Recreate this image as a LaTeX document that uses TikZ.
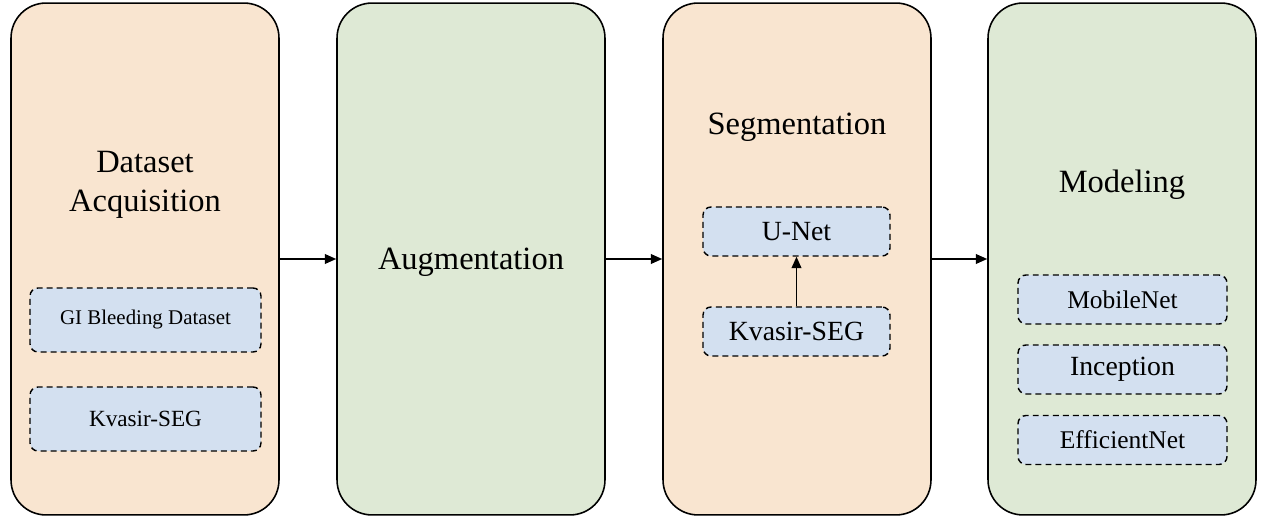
\documentclass[tikz,border=0pt]{standalone}
\usepackage{fontspec}
\setmainfont{Liberation Serif}
\usetikzlibrary{arrows.meta}
\definecolor{peach}{RGB}{249,229,208}
\definecolor{sage}{RGB}{222,233,213}
\definecolor{paleblue}{RGB}{211,224,240}
\tikzset{
  stage/.style={draw=black, line width=0.9pt, rounded corners=0.7cm, minimum width=5.36cm, minimum height=10.24cm, inner sep=0pt},
  title/.style={font=\fontsize{18.5}{22.2}\selectfont, align=center, inner sep=0pt},
  item/.style={draw=black, line width=0.8pt, dash pattern=on 3.4pt off 2.3pt, rounded corners=0.16cm, fill=paleblue, inner sep=0pt},
  flow/.style={line width=1pt, -{Triangle[length=6.5pt,width=5.5pt]}}
}
\begin{document}
\begin{tikzpicture}[x=0.02cm, y=-0.02cm]
\useasboundingbox (0,0) rectangle (1264,516);
% stages
\node[stage, fill=peach] (s1) at (145,259) {};
\node[stage, fill=sage]  (s2) at (471,259) {};
\node[stage, fill=peach] (s3) at (797,259) {};
\node[stage, fill=sage]  (s4) at (1122,259) {};
% titles
\node[title] (t1) at (145,185) {Dataset\\Acquisition};
\node[title] (t2) at (471,262) {Augmentation};
\node[title] (t3) at (797,127) {Segmentation};
\node[title] (t4) at (1122,185) {Modeling};
% items stage 1
\node[item, minimum width=4.62cm, minimum height=1.28cm, font=\fontsize{11.9}{14}\selectfont] (gi) at (145.5,320) {GI Bleeding Dataset};
\node[item, minimum width=4.62cm, minimum height=1.28cm, font=\fontsize{13.2}{15}\selectfont] (kv1) at (145.5,419) {Kvasir-SEG};
% items stage 3
\node[item, minimum width=3.74cm, minimum height=0.98cm, font=\fontsize{15.8}{18}\selectfont] (un) at (796.5,231.5) {U-Net};
\node[item, minimum width=3.74cm, minimum height=0.98cm, font=\fontsize{15.8}{18}\selectfont] (kv3) at (796.5,331.5) {Kvasir-SEG};
% items stage 4
\node[item, minimum width=4.18cm, minimum height=0.98cm, font=\fontsize{14.5}{17}\selectfont] (mb) at (1122.5,299.5) {MobileNet};
\node[item, minimum width=4.18cm, minimum height=0.98cm, font=\fontsize{15.8}{18}\selectfont] (inc) at (1122.5,369.5) {Inception};
\node[item, minimum width=4.18cm, minimum height=0.98cm, font=\fontsize{14.5}{17}\selectfont] (eff) at (1122.5,440) {EfficientNet};
% connectors
\draw[flow] (s1.east) -- (s2.west);
\draw[flow] (s2.east) -- (s3.west);
\draw[flow] (s3.east) -- (s4.west);
\draw[flow] (kv3.north) -- (un.south);
\end{tikzpicture}
\end{document}
